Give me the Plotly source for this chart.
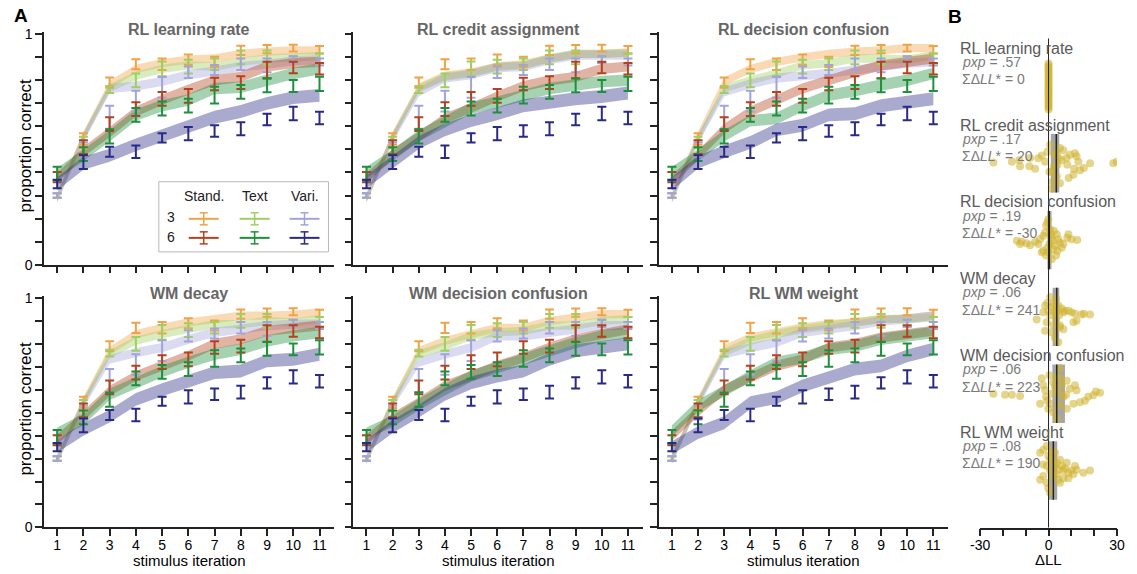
import plotly.graph_objects as go

# Figure size; the page shows it inside an 8px body margin and the photo is
# scaled from (W+16)x(H+16) to WxH, so positions below are given in photo pixels
# and converted through that mapping.
W, H = 1137, 574
OFF = 8
SX = W / (W + 2 * OFF)
SY = H / (H + 2 * OFF)
FONT = "Liberation Sans, Arial, sans-serif"

# ---------------- data ----------------
iters = list(range(1, 12))
conditions = ["3 Stand.", "3 Text", "3 Vari.", "6 Stand.", "6 Text", "6 Vari."]
colors = ["#f0a345", "#9fcf62", "#a3a3db", "#b4421c", "#1e8f3c", "#2a2a86"]
band_rgb = [(240, 163, 69), (159, 207, 98), (163, 163, 219), (180, 66, 28), (30, 143, 60), (42, 42, 134)]
band_half = [0.018, 0.018, 0.02, 0.022, 0.025, 0.028]

# human data: mean and error (half-width)
data_mean = [
    [0.30, 0.545, 0.79, 0.87, 0.87, 0.89, 0.88, 0.93, 0.936, 0.94, 0.933],
    [0.30, 0.53, 0.76, 0.80, 0.85, 0.86, 0.87, 0.90, 0.90, 0.89, 0.895],
    [0.30, 0.50, 0.64, 0.71, 0.77, 0.835, 0.845, 0.87, 0.865, 0.89, 0.88],
    [0.38, 0.51, 0.61, 0.675, 0.72, 0.733, 0.784, 0.79, 0.845, 0.856, 0.85],
    [0.395, 0.48, 0.557, 0.65, 0.678, 0.69, 0.736, 0.75, 0.778, 0.776, 0.785],
    [0.35, 0.445, 0.49, 0.49, 0.55, 0.569, 0.58, 0.59, 0.63, 0.656, 0.637],
]
data_err = [
    [0.01, 0.025, 0.022, 0.022, 0.025, 0.022, 0.022, 0.02, 0.018, 0.015, 0.016],
    [0.01, 0.025, 0.015, 0.03, 0.032, 0.03, 0.025, 0.03, 0.03, 0.015, 0.022],
    [0.01, 0.03, 0.05, 0.045, 0.045, 0.025, 0.022, 0.025, 0.03, 0.015, 0.015],
    [0.022, 0.03, 0.03, 0.03, 0.03, 0.03, 0.027, 0.028, 0.036, 0.025, 0.025],
    [0.03, 0.03, 0.031, 0.03, 0.03, 0.03, 0.036, 0.03, 0.03, 0.026, 0.031],
    [0.018, 0.03, 0.022, 0.027, 0.02, 0.029, 0.025, 0.028, 0.025, 0.029, 0.027],
]

panel_titles = ["RL learning rate", "RL credit assignment", "RL decision confusion",
                "WM decay", "WM decision confusion", "RL WM weight"]

# model simulations (band centres), per panel, per condition
model_rl_lr = [
    [0.29, 0.56, 0.78, 0.85, 0.875, 0.89, 0.895, 0.915, 0.925, 0.93, 0.93],
    [0.29, 0.555, 0.765, 0.82, 0.85, 0.865, 0.86, 0.88, 0.895, 0.90, 0.905],
    [0.29, 0.55, 0.765, 0.775, 0.795, 0.825, 0.84, 0.86, 0.87, 0.885, 0.89],
    [0.375, 0.49, 0.575, 0.665, 0.715, 0.76, 0.80, 0.815, 0.86, 0.875, 0.88],
    [0.395, 0.475, 0.56, 0.65, 0.69, 0.715, 0.765, 0.77, 0.80, 0.83, 0.85],
    [0.35, 0.44, 0.475, 0.52, 0.56, 0.60, 0.64, 0.665, 0.70, 0.725, 0.735],
]
model_rl_ca = [
    [0.29, 0.56, 0.77, 0.82, 0.835, 0.86, 0.87, 0.895, 0.915, 0.915, 0.92],
    [0.29, 0.555, 0.765, 0.815, 0.83, 0.86, 0.865, 0.895, 0.915, 0.915, 0.92],
    [0.29, 0.55, 0.75, 0.81, 0.825, 0.855, 0.86, 0.89, 0.91, 0.91, 0.91],
    [0.375, 0.48, 0.555, 0.635, 0.68, 0.73, 0.775, 0.80, 0.815, 0.85, 0.86],
    [0.40, 0.475, 0.56, 0.62, 0.68, 0.705, 0.735, 0.765, 0.78, 0.795, 0.80],
    [0.36, 0.445, 0.53, 0.585, 0.625, 0.655, 0.69, 0.705, 0.72, 0.73, 0.745],
]
model_rl_dc = [
    [0.29, 0.56, 0.795, 0.85, 0.88, 0.90, 0.915, 0.925, 0.93, 0.94, 0.94],
    [0.29, 0.545, 0.765, 0.80, 0.83, 0.865, 0.875, 0.895, 0.895, 0.89, 0.91],
    [0.29, 0.545, 0.75, 0.785, 0.81, 0.82, 0.83, 0.845, 0.86, 0.875, 0.88],
    [0.365, 0.475, 0.59, 0.665, 0.715, 0.765, 0.80, 0.835, 0.865, 0.88, 0.895],
    [0.40, 0.475, 0.56, 0.625, 0.635, 0.69, 0.735, 0.755, 0.78, 0.80, 0.83],
    [0.35, 0.445, 0.49, 0.53, 0.585, 0.605, 0.65, 0.655, 0.69, 0.705, 0.72],
]
model_wm_decay = [
    [0.296, 0.55, 0.77, 0.843, 0.87, 0.894, 0.908, 0.923, 0.923, 0.926, 0.937],
    [0.296, 0.545, 0.755, 0.813, 0.843, 0.864, 0.886, 0.886, 0.90, 0.894, 0.908],
    [0.296, 0.54, 0.733, 0.762, 0.784, 0.82, 0.85, 0.864, 0.88, 0.886, 0.886],
    [0.383, 0.485, 0.595, 0.66, 0.704, 0.748, 0.80, 0.82, 0.857, 0.87, 0.88],
    [0.41, 0.47, 0.58, 0.63, 0.68, 0.72, 0.755, 0.777, 0.813, 0.835, 0.85],
    [0.354, 0.427, 0.485, 0.558, 0.60, 0.638, 0.675, 0.682, 0.726, 0.733, 0.755],
]
model_wm_dc = [
    [0.296, 0.55, 0.77, 0.813, 0.843, 0.87, 0.87, 0.90, 0.915, 0.93, 0.93],
    [0.296, 0.545, 0.755, 0.79, 0.835, 0.85, 0.857, 0.88, 0.88, 0.90, 0.908],
    [0.296, 0.54, 0.72, 0.755, 0.784, 0.835, 0.835, 0.85, 0.864, 0.88, 0.88],
    [0.383, 0.478, 0.544, 0.617, 0.66, 0.704, 0.74, 0.784, 0.82, 0.843, 0.864],
    [0.41, 0.464, 0.536, 0.60, 0.66, 0.697, 0.733, 0.77, 0.806, 0.835, 0.85],
    [0.354, 0.44, 0.507, 0.58, 0.63, 0.66, 0.682, 0.733, 0.77, 0.784, 0.80],
]
model_rl_wm = [
    [0.296, 0.55, 0.777, 0.828, 0.85, 0.872, 0.886, 0.894, 0.908, 0.911, 0.923],
    [0.296, 0.545, 0.762, 0.813, 0.843, 0.864, 0.88, 0.894, 0.908, 0.908, 0.915],
    [0.296, 0.54, 0.755, 0.784, 0.806, 0.85, 0.864, 0.88, 0.90, 0.908, 0.923],
    [0.40, 0.507, 0.60, 0.653, 0.704, 0.733, 0.784, 0.80, 0.828, 0.843, 0.857],
    [0.42, 0.53, 0.595, 0.66, 0.72, 0.74, 0.777, 0.79, 0.82, 0.835, 0.85],
    [0.347, 0.413, 0.456, 0.544, 0.566, 0.617, 0.653, 0.69, 0.704, 0.748, 0.777],
]
panel_models = [model_rl_lr, model_rl_ca, model_rl_dc, model_wm_decay, model_wm_dc, model_rl_wm]

# Panel B
b_models = ["RL learning rate", "RL credit assignment", "RL decision confusion",
            "WM decay", "WM decision confusion", "RL WM weight"]
b_pxp = [".57", ".17", ".19", ".06", ".06", ".08"]
b_sum = ["0", "20", "-30", "241", "223", "190"]
b_mean = [0.0, 3.4, 0.3, 3.6, 3.6, 2.1]
b_ci_low = [0.0, 1.0, -0.5, 1.8, 1.7, 0.0]
b_ci_high = [0.0, 4.7, 1.3, 4.7, 7.2, 3.8]

dll_g1 = [0.0] * 25
jit_g1 = [-0.30, -0.275, -0.25, -0.225, -0.20, -0.175, -0.15, -0.125, -0.10, -0.075, -0.05, -0.025, 0.0,
          0.025, 0.05, 0.075, 0.10, 0.125, 0.15, 0.175, 0.20, 0.225, 0.25, 0.275, 0.30]
dll_g2 = [-24.2, -16.1, -12.8, -8.1, -12.5, -8.4, -5.9, -4.5, -3.0, -1.5, -0.5, 0.7, 1.4, 1.8, 2.6, 3.6,
          3.9, 4.5, 5.0, 5.8, 6.5, 8.0, 8.2, 8.8, 9.4, 10.9, 11.6, 12.3, 11.2, 13.1, 13.8, 15.5,
          18.2, 28.4, 29.9, 3.6, 5.0, 1.4, 2.4, 0.4]
jit_g2 = [-0.01, -0.02, -0.04, -0.07, 0.04, 0.04, 0.07, -0.065, -0.1, -0.02, -0.15, -0.24, 0.11, 0.24,
          -0.11, -0.13, 0.02, -0.065, -0.2, -0.04, -0.17, -0.07, 0.02, 0.19, -0.11, 0.15, -0.13, -0.09,
          0.07, -0.02, 0.09, 0.06, 0.0, 0.0, -0.02, 0.17, 0.26, 0.33, 0.04, 0.11]
dll_g3 = [-13.9, -11.8, -9.6, -12.5, -8.1, -5.9, -4.5, -3.7, -2.3, -1.5, -1.1, -0.5, -0.1, 0.7, 0.9, 1.4,
          1.8, 2.4, 2.8, 3.6, 4.3, 5.0, 5.8, 6.5, 8.2, 8.7, 10.1, 12.6, -2.3, -1.1, -0.1, 1.4, 3.3, 0.4,
          -0.5, 2.1, -3.0, 3.9]
jit_g3 = [0.01, 0.02, 0.04, 0.05, 0.066, 0.02, 0.05, -0.01, -0.055, -0.1, -0.19, -0.23, -0.27, -0.14,
          -0.075, -0.03, 0.01, -0.12, 0.07, -0.075, -0.01, 0.03, 0.1, 0.05, -0.03, -0.075, -0.01, 0.0,
          0.14, 0.2, 0.16, 0.25, 0.2, 0.05, 0.1, 0.12, 0.16, 0.14]
dll_g4 = [-5.2, -2.3, -1.5, -0.5, -0.1, 0.7, 1.4, 2.1, 2.8, 3.3, 3.6, 4.3, 4.7, 5.0, 5.8, 6.5, 7.2, 8.7,
          10.1, 11.6, 14.5, 15.5, 18.2, 12.3, 10.9, -1.5, 1.4, 2.8, 4.3, 5.0, 0.7, 3.3, -0.8, 2.1, 6.5]
jit_g4 = [0.035, -0.06, -0.15, -0.18, -0.08, -0.02, -0.13, -0.17, -0.06, 0.03, -0.08, -0.15, -0.02, 0.11,
          -0.11, -0.06, -0.08, -0.08, -0.06, -0.04, -0.03, -0.04, -0.03, 0.05, 0.07, 0.18, 0.2, 0.27,
          0.33, 0.135, -0.26, -0.235, 0.07, 0.11, 0.16]
dll_g5 = [-24.2, -19.1, -16.1, -12.5, -3.0, -2.3, -1.5, -1.1, -0.5, 0.7, 1.4, 2.1, 2.8, 3.6, 4.3, 5.0,
          5.8, 6.5, 7.7, 8.0, 9.4, 11.6, 12.3, 13.8, 16.0, 17.4, 19.6, 20.8, 22.6, -3.7, -0.1, 2.1, 4.7,
          8.0, 10.9, 3.6, 5.0, 0.4]
jit_g5 = [0.0, 0.013, 0.013, 0.03, -0.2, -0.11, -0.045, 0.04, 0.09, 0.13, 0.0, -0.15, -0.09, -0.22,
          -0.02, -0.2, -0.11, 0.04, 0.013, -0.17, -0.065, -0.11, -0.045, 0.11, 0.09, 0.04, 0.02, -0.03,
          -0.013, 0.13, 0.196, 0.24, 0.15, 0.196, 0.13, 0.33, -0.33, -0.24]
dll_g6 = [-3.7, -2.3, -0.8, -0.1, 0.7, 1.4, 2.1, 2.8, 3.6, 4.3, 5.0, 5.8, 6.5, 7.2, 8.0, 8.7, 10.1, 11.6,
          12.3, 15.3, 18.2, -3.7, -2.3, -0.8, 0.7, 2.1, 4.3, 6.5, -0.1, 0.7, -0.8, -2.3, 2.8, 3.6, 8.7,
          10.9, 5.0]
jit_g6 = [-0.23, -0.27, -0.32, -0.19, -0.14, -0.25, -0.12, -0.06, -0.10, -0.01, -0.14, -0.06, 0.0, -0.03,
          -0.10, 0.03, 0.0, -0.06, -0.01, 0.03, 0.0, 0.12, 0.07, 0.16, 0.0, 0.07, 0.12, 0.10, 0.23, 0.29,
          -0.06, -0.08, -0.23, 0.05, 0.10, 0.05, 0.16]
b_dll = [dll_g1, dll_g2, dll_g3, dll_g4, dll_g5, dll_g6]
b_jit = [jit_g1, jit_g2, jit_g3, jit_g4, jit_g5, jit_g6]

# ---------------- layout helpers (photo pixels -> paper) ----------------
def px_x(x):
    return (x / SX - OFF) / W

def px_y(y):
    return 1 - (y / SY - OFF) / H

col_px = [(42, 333), (352, 642), (658, 948)]
row_px = [(33.7, 265.7), (296.7, 527.7)]   # (top, bottom) pixels

fig = go.Figure()
layout = dict(
    width=W, height=H, margin=dict(l=0, r=0, t=0, b=0),
    paper_bgcolor="white", plot_bgcolor="white", showlegend=False,
    font=dict(family=FONT, color="black", size=14),
)
annotations = []
shapes = []

for p in range(6):
    r, c = divmod(p, 3)
    k = p + 1
    xa = "xaxis" if k == 1 else f"xaxis{k}"
    ya = "yaxis" if k == 1 else f"yaxis{k}"
    xr = "x" if k == 1 else f"x{k}"
    yr = "y" if k == 1 else f"y{k}"
    x0, x1 = col_px[c]
    top, bot = row_px[r]
    layout[xa] = dict(
        domain=[px_x(x0), px_x(x1)], range=[0.5, 11.57], anchor=yr,
        tickvals=iters, ticktext=[str(i) for i in iters], showticklabels=(r == 1),
        ticks="outside", ticklen=7, tickwidth=1.5, tickcolor="#222",
        showline=True, linecolor="#222", linewidth=1.5, showgrid=False, zeroline=False,
        tickfont=dict(size=14, family=FONT), ticklabelstandoff=-3,
    )
    layout[ya] = dict(
        domain=[px_y(bot), px_y(top)], range=[0, 1.01], anchor=xr,
        tickvals=[i / 10 for i in range(11)],
        ticktext=["0"] + [""] * 9 + ["1"], showticklabels=(c == 0),
        ticks="outside", ticklen=7, tickwidth=1.5, tickcolor="#222",
        showline=True, linecolor="#222", linewidth=1.5, showgrid=False, zeroline=False,
        tickfont=dict(size=14, family=FONT),
    )
    # model bands
    for j in range(6):
        m = panel_models[p][j]
        up = [v + band_half[j] for v in m]
        lo = [v - band_half[j] for v in m]
        rr, gg, bb = band_rgb[j]
        fig.add_trace(go.Scatter(
            x=iters + iters[::-1], y=up + lo[::-1], xaxis=xr, yaxis=yr,
            mode="lines", fill="toself", line=dict(width=0),
            fillcolor=f"rgba({rr},{gg},{bb},0.40)", hoverinfo="skip",
        ))
    # data error bars
    for j in range(6):
        fig.add_trace(go.Scatter(
            x=iters, y=data_mean[j], xaxis=xr, yaxis=yr, mode="markers",
            marker=dict(size=2, color=colors[j], opacity=0),
            error_y=dict(type="data", array=data_err[j], color=colors[j], thickness=2, width=4.5),
            name=conditions[j],
        ))
    cx = (x0 + x1) / 2
    ty = 31 if r == 0 else 294
    annotations.append(dict(
        x=px_x(cx), y=px_y(ty), xref="paper", yref="paper", text=f"<b>{panel_titles[p]}</b>",
        showarrow=False, font=dict(size=16, color="#666666", family=FONT), xanchor="center", yanchor="middle"))

# y titles and x titles
for r in range(2):
    top, bot = row_px[r]
    annotations.append(dict(
        x=px_x(23), y=px_y((top + bot) / 2 - 3), xref="paper", yref="paper", text="proportion correct",
        textangle=-90, showarrow=False, font=dict(size=17, family=FONT), xanchor="center", yanchor="middle"))
for c in range(3):
    x0, x1 = col_px[c]
    annotations.append(dict(
        x=px_x((x0 + x1) / 2), y=px_y(560.5), xref="paper", yref="paper", text="stimulus iteration",
        showarrow=False, font=dict(size=15, family=FONT), xanchor="center", yanchor="middle"))

# panel letters
annotations.append(dict(x=px_x(10), y=px_y(17), xref="paper", yref="paper", text="<b>A</b>",
                        showarrow=False, font=dict(size=19, family=FONT), xanchor="left", yanchor="middle"))
annotations.append(dict(x=px_x(946), y=px_y(18), xref="paper", yref="paper", text="<b>B</b>",
                        showarrow=False, font=dict(size=19, family=FONT), xanchor="left", yanchor="middle"))

# legend box (panel 1)
shapes.append(dict(type="rect", xref="paper", yref="paper", x0=px_x(157), x1=px_x(327),
                   y0=px_y(253), y1=px_y(183), line=dict(color="#b8b8b8", width=1), fillcolor="white",
                   layer="above"))
for lbl, lx in zip(["Stand.", "Text", "Vari."], [202, 253, 303]):
    annotations.append(dict(x=px_x(lx), y=px_y(197), xref="paper", yref="paper", text=lbl,
                            showarrow=False, font=dict(size=14, family=FONT, color="#222"),
                            xanchor="center", yanchor="middle"))
for lbl, ly in zip(["3", "6"], [218, 238]):
    annotations.append(dict(x=px_x(169), y=px_y(ly), xref="paper", yref="paper", text=lbl,
                            showarrow=False, font=dict(size=14, family=FONT, color="#222"),
                            xanchor="center", yanchor="middle"))
for j in range(6):
    row, col = divmod(j, 3)
    cx = [202, 253, 303][col]
    cy = [220, 239][row]
    kw = dict(xref="paper", yref="paper", layer="above")
    shapes.append(dict(type="line", x0=px_x(cx - 15), x1=px_x(cx + 15), y0=px_y(cy), y1=px_y(cy),
                       line=dict(color=colors[j], width=2), **kw))
    shapes.append(dict(type="line", x0=px_x(cx), x1=px_x(cx), y0=px_y(cy - 6), y1=px_y(cy + 6),
                       line=dict(color=colors[j], width=1.5), **kw))
    for dy in (-6, 6):
        shapes.append(dict(type="line", x0=px_x(cx - 4), x1=px_x(cx + 4), y0=px_y(cy + dy),
                           y1=px_y(cy + dy), line=dict(color=colors[j], width=1.5), **kw))

# ---------------- Panel B ----------------
b_top, b_bot = 40, 528
layout["xaxis7"] = dict(
    domain=[px_x(980), px_x(1117)], range=[-30, 30], anchor="y7",
    tickvals=[-30, -20, -10, 0, 10, 20, 30], ticktext=["-30", "", "", "0", "", "", "30"],
    ticks="outside", ticklen=7, tickwidth=1.5, tickcolor="#222",
    showline=True, linecolor="#222", linewidth=1.5, showgrid=False, zeroline=False,
    tickfont=dict(size=14, family=FONT), ticklabelstandoff=-3,
)
layout["yaxis7"] = dict(domain=[px_y(b_bot), px_y(b_top)], range=[5.744, -0.627], anchor="x7",
                        visible=False)
for g in range(6):
    if b_ci_high[g] > b_ci_low[g]:
        shapes.append(dict(type="rect", xref="x7", yref="y7", x0=b_ci_low[g], x1=b_ci_high[g],
                           y0=g - 0.38, y1=g + 0.38, fillcolor="rgba(150,150,150,0.85)",
                           line=dict(width=0), layer="below"))
    fig.add_trace(go.Scatter(
        x=b_dll[g], y=[g + v for v in b_jit[g]], xaxis="x7", yaxis="y7", mode="markers",
        marker=dict(size=8, color="rgba(207,178,45,0.55)", line=dict(width=0)),
        name=b_models[g],
    ))
    if g > 0:
        shapes.append(dict(type="line", xref="x7", yref="y7", x0=b_mean[g], x1=b_mean[g],
                           y0=g - 0.38, y1=g + 0.38, line=dict(color="#222", width=1.5), layer="above"))
    gy = 50 + 76.6 * g
    annotations.append(dict(x=px_x(958), y=px_y(gy), xref="paper", yref="paper", text=b_models[g],
                            showarrow=False, font=dict(size=16, family=FONT, color="#5a5a5a"),
                            xanchor="left", yanchor="middle"))
    annotations.append(dict(x=px_x(960), y=px_y(gy + 13.5), xref="paper", yref="paper",
                            text=f"<i>pxp</i> = {b_pxp[g]}",
                            showarrow=False, font=dict(size=14, family=FONT, color="#7a7a7a"),
                            xanchor="left", yanchor="middle"))
    annotations.append(dict(x=px_x(960), y=px_y(gy + 31), xref="paper", yref="paper",
                            text=f"ΣΔ<i>LL</i>* = {b_sum[g]}",
                            showarrow=False, font=dict(size=14, family=FONT, color="#7a7a7a"),
                            xanchor="left", yanchor="middle"))
shapes.append(dict(type="line", xref="x7", yref="y7", x0=0, x1=0, y0=-0.627, y1=5.744,
                   line=dict(color="#222", width=1), layer="above"))
annotations.append(dict(x=px_x(1048), y=px_y(560), xref="paper", yref="paper", text="ΔLL",
                        showarrow=False, font=dict(size=15, family=FONT), xanchor="center", yanchor="middle"))

layout["annotations"] = annotations
layout["shapes"] = shapes
fig.update_layout(**layout)
fig.write_html("out.html")
